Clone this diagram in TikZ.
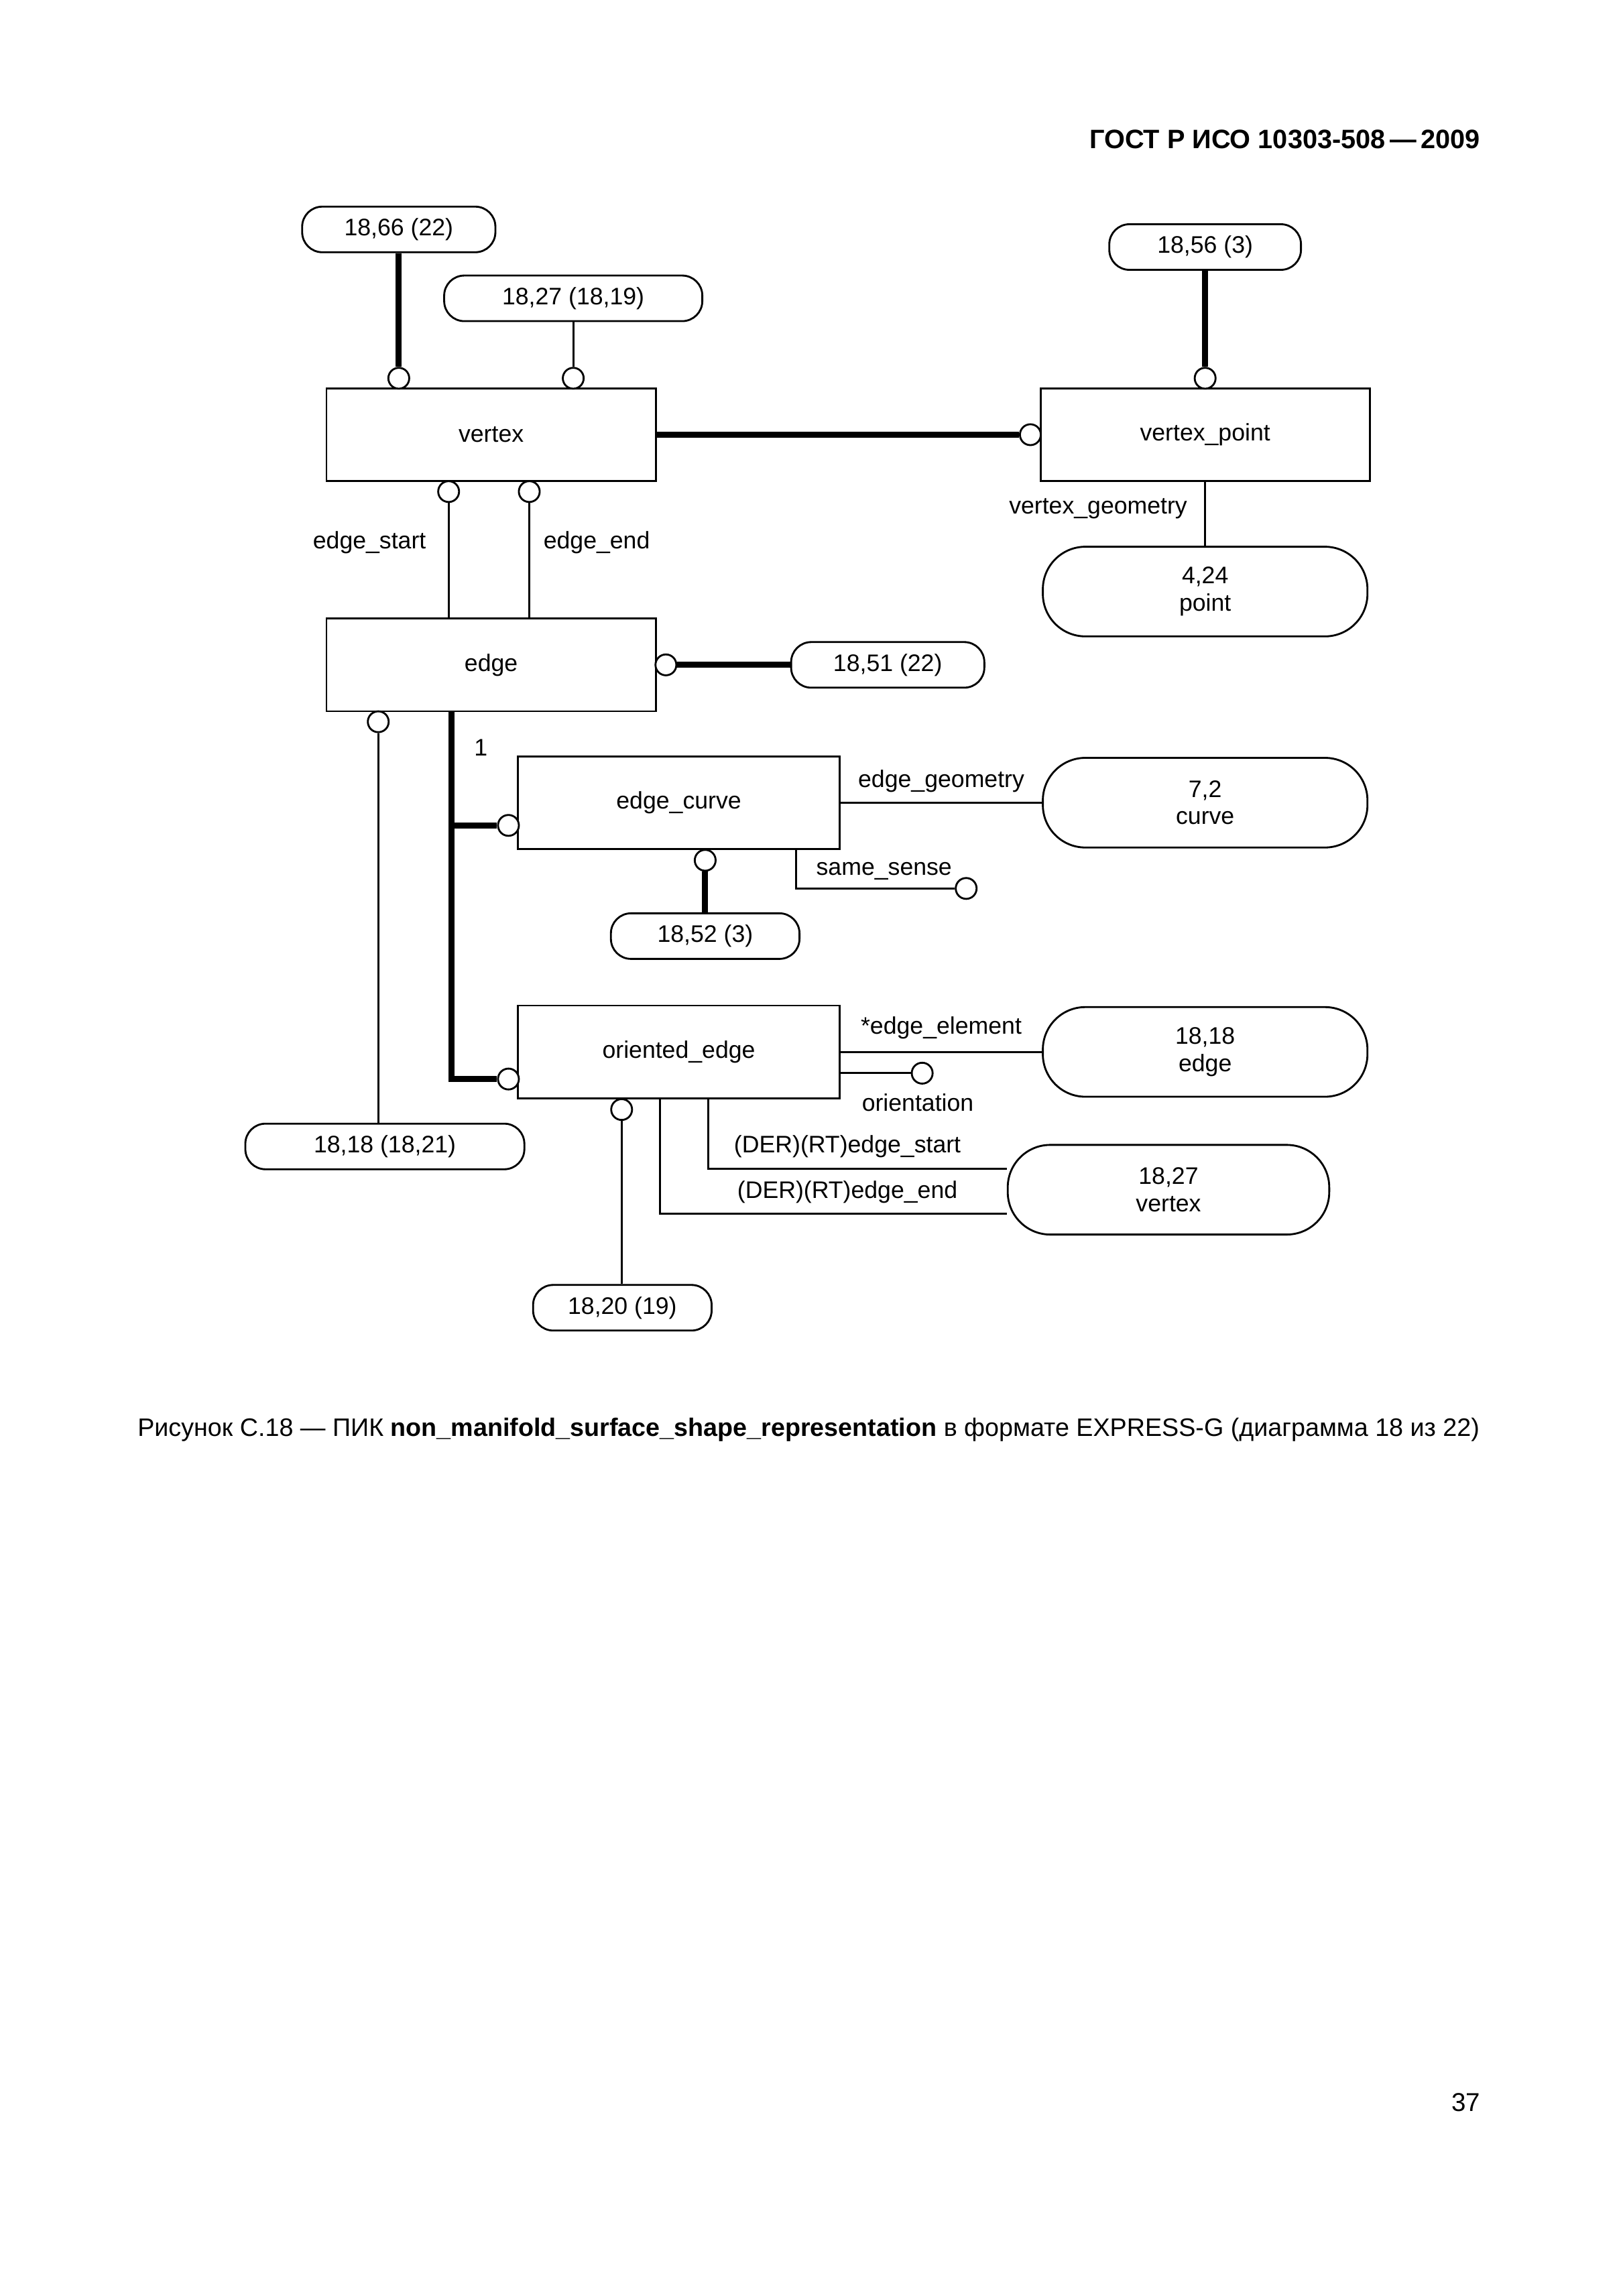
\documentclass[tikz,border=0pt]{standalone}
\usepackage{fontspec}
\setmainfont{Liberation Sans}
\usetikzlibrary{positioning}

\begin{document}
\begin{tikzpicture}[x=0.1897mm, y=-0.1897mm,
  every node/.style={font=\fontsize{8.8}{10}\selectfont},
  ent/.style={draw, line width=0.7pt, minimum width=42.6mm, minimum height=12mm, inner sep=0pt},
  ref/.style={draw, line width=0.7pt, rounded corners=2.6mm, minimum height=5.9mm, inner sep=0pt},
  bigref/.style={draw, line width=0.7pt, rounded corners=5.5mm, minimum width=42mm, minimum height=11.6mm, inner sep=0pt, align=center},
  ring/.style={draw, circle, line width=0.7pt, fill=white, minimum size=2.7mm, inner sep=0pt},
  attr/.style={line width=0.75pt},
  heavy/.style={line width=2.2pt}]

\useasboundingbox (0,0) rectangle (1107,1566.1);

\node[anchor=east, inner sep=0pt, font=\bfseries\fontsize{9.8}{12}\selectfont] (hdr) at (1010,95) {ГОСТ Р ИСО 10303-508\,—\,2009};

% entities
\node[ent] (vtx) at (335,296.5) {vertex};
\node[ent] (vtxpt) at (822,296.5) {vertex\_point};
\node[ent] (edg) at (335,453.5) {edge};
\node[ent, minimum width=41.6mm] (edgcrv) at (463,547.5) {edge\_curve};
\node[ent, minimum width=41.6mm] (oredg) at (463,717.5) {oriented\_edge};

% page references
\node[ref, minimum width=25mm] (r1866) at (272,156.5) {18,66 (22)};
\node[ref, minimum width=33.4mm] (r1827a) at (391,203.5) {18,27 (18,19)};
\node[ref, minimum width=24.8mm] (r1856) at (822,168.5) {18,56 (3)};
\node[ref, minimum width=25mm] (r1851) at (605.5,453.5) {18,51 (22)};
\node[ref, minimum width=24.4mm] (r1852) at (481,638.5) {18,52 (3)};
\node[ref, minimum width=36.1mm] (r1818a) at (262.5,782) {18,18 (18,21)};
\node[ref, minimum width=23.1mm] (r1820) at (424.5,892) {18,20 (19)};
\node[bigref] (r424) at (822,403.5) {4,24\\point};
\node[bigref] (r72) at (822,547.5) {7,2\\curve};
\node[bigref] (r1818) at (822,717.5) {18,18\\edge};
\node[bigref, minimum width=41.6mm] (r1827) at (797,811.5) {18,27\\vertex};

% circles
\node[ring] (c1866) at (272,258) {};
\node[ring] (c1827a) at (391,258) {};
\node[ring] (c1856) at (822,258) {};
\node[ring] (cvp) at (702.8,296.5) {};
\node[ring] (cvs) at (306,335.3) {};
\node[ring] (cve) at (361,335.3) {};
\node[ring] (ced) at (454.2,453.5) {};
\node[ring] (ceb) at (258,492.3) {};
\node[ring] (cec) at (346.8,563) {};
\node[ring] (ccb) at (481,586.8) {};
\node[ring] (css) at (659,606) {};
\node[ring] (coe) at (346.8,736) {};
\node[ring] (cor) at (629,732) {};
\node[ring] (cob) at (424,756.8) {};

\coordinate (j1) at (308,563);
\coordinate (j2) at (308,736);
\coordinate (j3) at (543,606);
\coordinate (j4) at (483,797);
\coordinate (j5) at (450,828);

\begin{scope}[heavy]
\draw (r1866) -- (c1866);
\draw (r1856) -- (c1856);
\draw (vtx) -- (cvp); %vtx-vtxpt
\draw (ced) -- (r1851);
\draw (ccb) -- (r1852);
\draw (edg.south -| j2) -- (j2) -- (coe); %edg-oredg
\draw (j1) -- (cec); %edg-edgcrv
\end{scope}

\begin{scope}[attr]
\draw (r1827a) -- (c1827a);
\draw (cvs) -- (cvs |- edg.north); %edge_start
\draw (cve) -- (cve |- edg.north); %edge_end
\draw (vtxpt) -- (r424);
\draw (ceb) -- (ceb |- r1818a.north);
\draw (edgcrv) -- (r72);
\draw (edgcrv.south -| j3) -- (j3) -- (css); %same_sense
\draw (oredg) -- (r1818);
\draw (oredg.east |- cor) -- (cor); %orientation
\draw (cob) -- (cob |- r1820.north);
\draw (oredg.south -| j4) -- (j4) -- (j4 -| r1827.west);
\draw (oredg.south -| j5) -- (j5) -- (j5 -| r1827.west);
\end{scope}

% attribute labels
\node (lstart) at (252,370) {edge\_start};
\node (lend) at (407,370) {edge\_end};
\node (lgeo) at (749,347) {vertex\_geometry};
\node (lone) at (328,510) {1};
\node (legeo) at (642,533) {edge\_geometry};
\node (lsense) at (603,594) {same\_sense};
\node (lelem) at (642,701) {*edge\_element};
\node (lorient) at (626,752) {orientation};
\node (ldstart) at (578,782) {(DER)(RT)edge\_start};
\node (ldend) at (578,813) {(DER)(RT)edge\_end};

\node[font=\fontsize{9.3}{12}\selectfont] (cap) at (551.5,975) {Рисунок С.18 — ПИК \textbf{non\_manifold\_surface\_shape\_representation} в формате EXPRESS-G (диаграмма 18 из 22)};
\node[font=\fontsize{9.5}{12}\selectfont] (pgno) at (1000,1434) {37};

\end{tikzpicture}
\end{document}
